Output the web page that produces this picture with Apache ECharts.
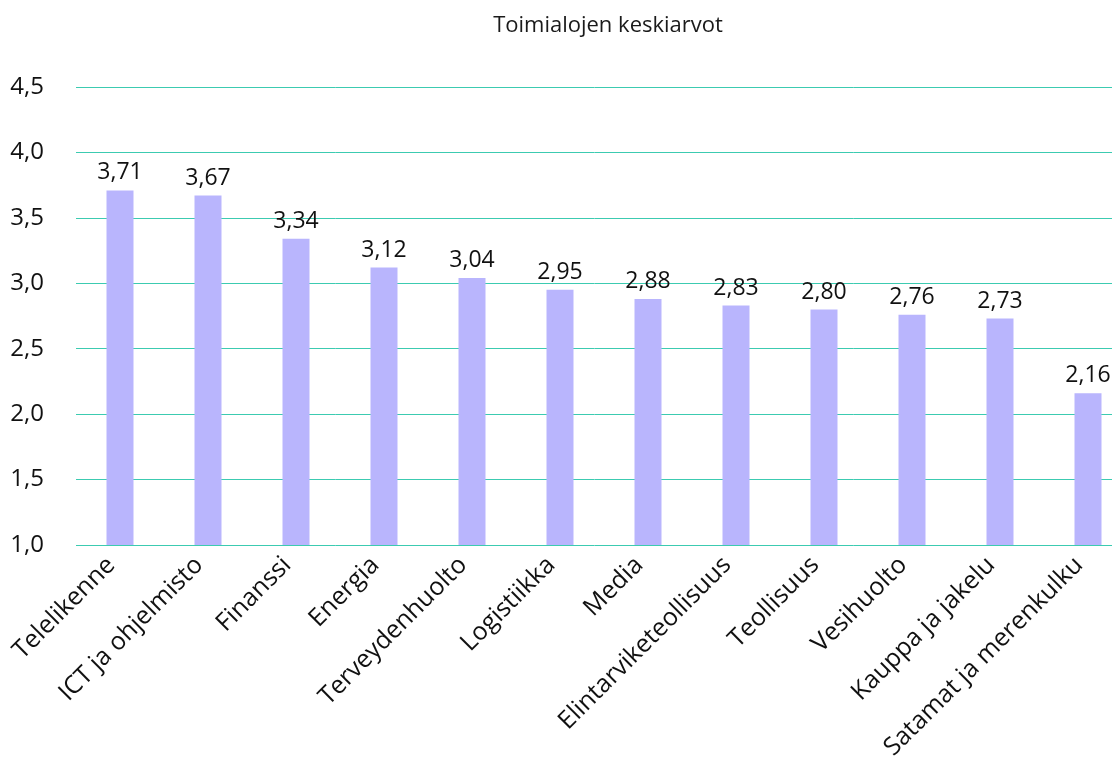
<!DOCTYPE html>
<html>
<head>
<meta charset="utf-8">
<script src="https://cdn.jsdelivr.net/npm/echarts@6/dist/echarts.min.js"></script>
<style>
  html, body { margin: 0; padding: 0; background: #fff; }
  #chart { width: 1112px; height: 763px; }
</style>
</head>
<body>
<div id="chart"></div>
<script>
var categories = ['Telelikenne', 'ICT ja ohjelmisto', 'Finanssi', 'Energia', 'Terveydenhuolto',
  'Logistiikka', 'Media', 'Elintarviketeollisuus', 'Teollisuus', 'Vesihuolto',
  'Kauppa ja jakelu', 'Satamat ja merenkulku'];
var averages = [3.71, 3.67, 3.34, 3.12, 3.04, 2.95, 2.88, 2.83, 2.80, 2.76, 2.73, 2.16];

function fiNum(v, digits) {
  return v.toFixed(digits).replace('.', ',');
}

var chart = echarts.init(document.getElementById('chart'));
chart.setOption({
  animation: false,
  textStyle: { fontFamily: 'Open Sans' },
  title: {
    text: 'Toimialojen keskiarvot',
    left: 603,
    top: 10,
    textAlign: 'center',
    textStyle: { color: '#1a1a1a', fontWeight: 'normal', fontSize: 22, fontFamily: 'Open Sans' }
  },
  grid: {
    left: 76,
    right: -20,
    top: 87,
    bottom: 218,
    containLabel: false,
    outerBoundsMode: 'none'
  },
  xAxis: {
    type: 'category',
    data: categories,
    axisLine: { show: false },
    axisTick: { show: false },
    axisLabel: {
      rotate: 45,
      margin: 25,
      verticalAlign: 'bottom',
      interval: 0,
      color: '#111',
      fontSize: 25,
      fontFamily: 'Open Sans'
    }
  },
  yAxis: {
    type: 'value',
    min: 1,
    max: 4.5,
    interval: 0.5,
    axisLine: { show: false },
    axisTick: { show: false },
    axisLabel: {
      color: '#111',
      fontSize: 24,
      margin: 32,
      fontFamily: 'Open Sans',
      formatter: function (v) { return fiNum(v, 1); }
    },
    splitLine: { lineStyle: { color: '#3ccbb1', width: 1 } }
  },
  series: [{
    type: 'bar',
    data: averages,
    barWidth: 27,
    itemStyle: { color: '#b9b5fd' },
    label: {
      show: true,
      position: 'top',
      distance: 6,
      color: '#111',
      fontSize: 23,
      fontFamily: 'Open Sans',
      formatter: function (p) { return fiNum(p.value, 2); }
    }
  }]
});
</script>
</body>
</html>
